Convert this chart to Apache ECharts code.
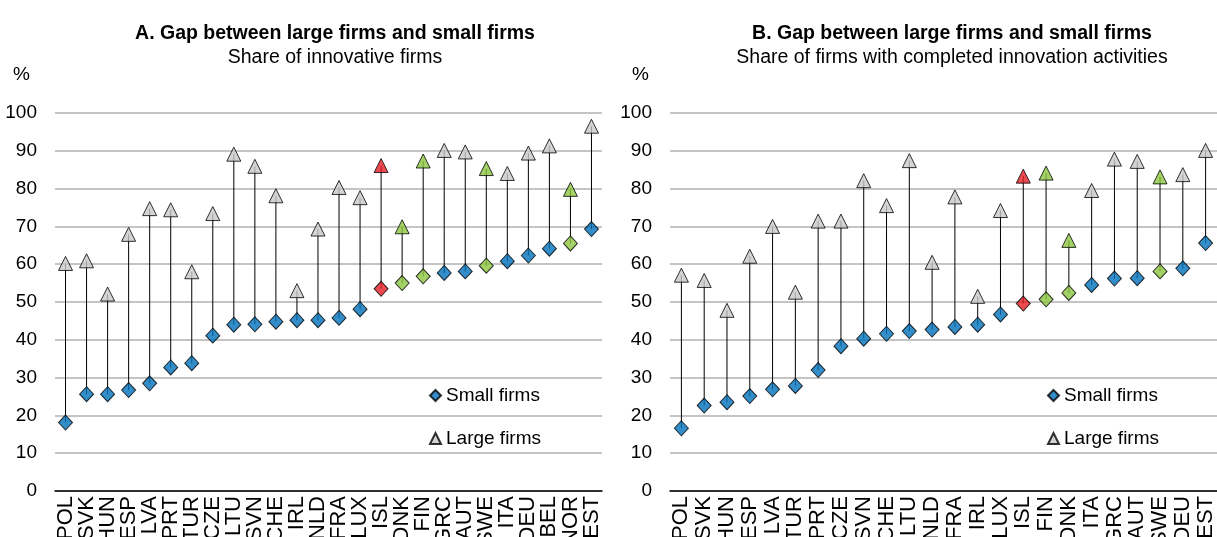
<!DOCTYPE html>
<html>
<head>
<meta charset="utf-8">
<script src="https://cdn.jsdelivr.net/npm/echarts@6/dist/echarts.min.js"></script>
<style>
  html, body { margin: 0; padding: 0; background: #fff; }
  #chart { width: 1217px; height: 537px; }
</style>
</head>
<body>
<div id="chart"></div>
<script>
// Panel A: share of innovative firms
var catsA = ["POL", "SVK", "HUN", "ESP", "LVA", "PRT", "TUR", "CZE", "LTU", "SVN", "CHE", "IRL", "NLD",
  "FRA", "LUX", "ISL", "DNK", "FIN", "GRC", "AUT", "SWE", "ITA", "DEU", "BEL", "NOR", "EST"];
var smallA = [18.1, 25.6, 25.6, 26.7, 28.5, 32.7, 33.8, 41.1, 44.0, 44.1, 44.8, 45.2, 45.2,
  45.8, 48.1, 53.5, 55.0, 56.8, 57.7, 58.1, 59.6, 60.8, 62.3, 64.1, 65.5, 69.3];
var largeA = [60.2, 60.9, 52.1, 67.9, 74.7, 74.4, 58.0, 73.4, 89.1, 85.9, 78.1, 53.0, 69.3,
  80.3, 77.6, 86.1, 69.9, 87.3, 90.1, 89.7, 85.3, 84.0, 89.4, 91.3, 79.8, 96.5];
var greenA = ["DNK", "FIN", "SWE", "NOR"];

// Panel B: share of firms with completed innovation activities
var catsB = ["POL", "SVK", "HUN", "ESP", "LVA", "TUR", "PRT", "CZE", "SVN", "CHE", "LTU", "NLD",
  "FRA", "IRL", "LUX", "ISL", "FIN", "DNK", "ITA", "GRC", "AUT", "SWE", "DEU", "EST"];
var smallB = [16.6, 22.6, 23.5, 25.1, 26.9, 27.8, 32.0, 38.3, 40.3, 41.6, 42.3, 42.7,
  43.4, 44.0, 46.7, 49.6, 50.7, 52.4, 54.5, 56.2, 56.3, 58.1, 58.9, 65.6];
var largeB = [57.1, 55.7, 47.8, 62.1, 70.0, 52.6, 71.4, 71.4, 82.1, 75.5, 87.4, 60.5,
  77.8, 51.5, 74.2, 83.3, 84.1, 66.3, 79.5, 87.8, 87.2, 83.1, 83.7, 90.1];
var greenB = ["FIN", "DNK", "SWE"];

var redCats = ["ISL"];

var BLUE = "#0071BC", GREY = "#C8C8C8", RED = "#E31E25", GREEN = "#8CC63F";
var FONT = "'Liberation Sans Narrow', 'Arial Narrow', 'Liberation Sans', sans-serif";

function pointColor(cat, greens, base) {
  if (redCats.indexOf(cat) >= 0) return RED;
  if (greens.indexOf(cat) >= 0) return GREEN;
  return base;
}

function markers(cats, vals, greens, base) {
  return vals.map(function (v, i) {
    return { value: v, itemStyle: { color: pointColor(cats[i], greens, base) } };
  });
}

function spans(smalls, larges) {
  return smalls.map(function (s, i) { return [i, s, larges[i]]; });
}

function renderSpan(params, api) {
  var lo = api.coord([api.value(0), api.value(1)]);
  var hi = api.coord([api.value(0), api.value(2)]);
  return {
    type: "line",
    shape: { x1: lo[0], y1: lo[1], x2: hi[0], y2: hi[1] },
    style: { stroke: "#000", lineWidth: 1 }
  };
}

function xAxis(cats, idx) {
  return {
    type: "category", gridIndex: idx, data: cats,
    axisLine: { lineStyle: { color: "#000", width: 1.5 } },
    axisTick: { inside: true, length: 7, lineStyle: { color: "#000", width: 1.5 } },
    axisLabel: { rotate: 90, interval: 0, margin: 5, color: "#000", fontSize: 22, fontFamily: "'Liberation Sans', Arial, sans-serif" },
    splitLine: { show: false }
  };
}

function yAxis(idx) {
  return {
    type: "value", gridIndex: idx, min: 0, max: 100, interval: 10,
    axisLine: { show: false }, axisTick: { show: false },
    axisLabel: { color: "#000", fontSize: 19, fontFamily: FONT, margin: 18 },
    splitLine: { lineStyle: { color: "#C4C4C4", width: 2 } }
  };
}

function legend(left) {
  return {
    left: left, top: 386, orient: "vertical", itemGap: 24, padding: 0,
    itemWidth: 11, itemHeight: 11,
    data: [{ name: "Small firms", icon: "diamond" }, { name: "Large firms", icon: "triangle" }],
    textStyle: { fontSize: 19, fontFamily: FONT, color: "#000" },
    selectedMode: false
  };
}

var symStyle = { borderColor: "#000", borderWidth: 1 };

var chart = echarts.init(document.getElementById("chart"));
chart.setOption({
  animation: false,
  title: [
    { text: "A. Gap between large firms and small firms", subtext: "Share of innovative firms",
      left: 330, top: 19, textAlign: "center", itemGap: 4,
      textStyle: { fontSize: 19.5, fontWeight: "bold", fontFamily: FONT, color: "#000" },
      subtextStyle: { fontSize: 19.5, fontFamily: FONT, color: "#000" } },
    { text: "B. Gap between large firms and small firms", subtext: "Share of firms with completed innovation activities",
      left: 947, top: 19, textAlign: "center", itemGap: 4,
      textStyle: { fontSize: 19.5, fontWeight: "bold", fontFamily: FONT, color: "#000" },
      subtextStyle: { fontSize: 19.5, fontFamily: FONT, color: "#000" } },
    { text: "%", left: 8, top: 60, textStyle: { fontSize: 19, fontWeight: "normal", fontFamily: FONT, color: "#000" } },
    { text: "%", left: 627, top: 60, textStyle: { fontSize: 19, fontWeight: "normal", fontFamily: FONT, color: "#000" } }
  ],
  legend: [legend(429), legend(1047)],
  grid: [
    { left: 55, top: 113, width: 547, height: 378, outerBoundsMode: "none" },
    { left: 670, top: 113, width: 547, height: 378, outerBoundsMode: "none" }
  ],
  xAxis: [xAxis(catsA, 0), xAxis(catsB, 1)],
  yAxis: [yAxis(0), yAxis(1)],
  series: [
    { type: "custom", name: "gapA", xAxisIndex: 0, yAxisIndex: 0, renderItem: renderSpan,
      data: spans(smallA, largeA), encode: { x: 0, y: [1, 2] }, z: 1 },
    { type: "custom", name: "gapB", xAxisIndex: 1, yAxisIndex: 1, renderItem: renderSpan,
      data: spans(smallB, largeB), encode: { x: 0, y: [1, 2] }, z: 1 },
    { type: "scatter", name: "Small firms", xAxisIndex: 0, yAxisIndex: 0, symbol: "diamond",
      symbolSize: [14, 15], itemStyle: Object.assign({ color: BLUE }, symStyle),
      data: markers(catsA, smallA, greenA, BLUE), z: 3 },
    { type: "scatter", name: "Large firms", xAxisIndex: 0, yAxisIndex: 0, symbol: "triangle",
      symbolSize: [14, 14], itemStyle: Object.assign({ color: GREY }, symStyle),
      data: markers(catsA, largeA, greenA, GREY), z: 3 },
    { type: "scatter", name: "Small firms", xAxisIndex: 1, yAxisIndex: 1, symbol: "diamond",
      symbolSize: [14, 15], itemStyle: Object.assign({ color: BLUE }, symStyle),
      data: markers(catsB, smallB, greenB, BLUE), z: 3 },
    { type: "scatter", name: "Large firms", xAxisIndex: 1, yAxisIndex: 1, symbol: "triangle",
      symbolSize: [14, 14], itemStyle: Object.assign({ color: GREY }, symStyle),
      data: markers(catsB, largeB, greenB, GREY), z: 3 }
  ]
});
</script>
</body>
</html>
